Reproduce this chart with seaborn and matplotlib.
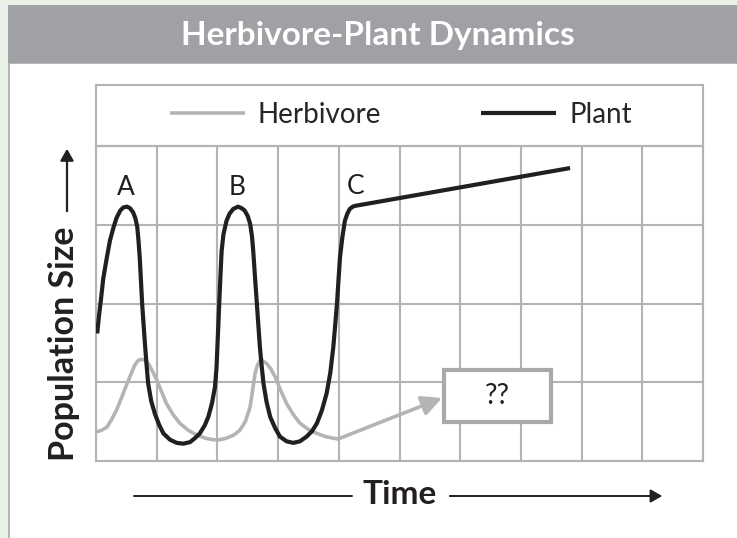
import numpy as np
import pandas as pd
import seaborn as sns
import matplotlib.pyplot as plt
from matplotlib.patches import Rectangle, FancyArrowPatch

# values, in grid units (10 time columns x 4 population rows)
plant_time = [0.02, 0.05, 0.08, 0.12, 0.18, 0.23, 0.29, 0.34, 0.40, 0.45, 0.51, 0.56,
              0.61, 0.65, 0.68, 0.70, 0.72, 0.74, 0.76, 0.785, 0.81, 0.835, 0.86, 0.91,
              0.97, 1.04, 1.11, 1.22, 1.33, 1.44, 1.55, 1.63, 1.71, 1.79, 1.85, 1.91,
              1.96, 1.985, 2.00, 2.015, 2.03, 2.05, 2.07, 2.10, 2.15, 2.20, 2.26, 2.34,
              2.40, 2.45, 2.50, 2.54, 2.57, 2.59, 2.62, 2.65, 2.675, 2.70, 2.73, 2.76,
              2.81, 2.87, 2.95, 3.03, 3.14, 3.25, 3.36, 3.47, 3.56, 3.64, 3.72, 3.80,
              3.86, 3.91, 3.94, 3.97, 3.995, 4.02, 4.06, 4.10, 4.14, 4.18, 4.23, 4.27,
              7.81]
plant_size = [1.62, 1.85, 2.04, 2.32, 2.59, 2.80, 2.97, 3.09, 3.18, 3.22, 3.23, 3.21,
              3.16, 3.08, 2.97, 2.80, 2.59, 2.30, 2.00, 1.72, 1.45, 1.20, 0.98, 0.76,
              0.60, 0.46, 0.35, 0.27, 0.23, 0.22, 0.24, 0.29, 0.35, 0.45, 0.56, 0.73,
              0.94, 1.18, 1.45, 1.72, 2.00, 2.35, 2.67, 2.88, 3.05, 3.14, 3.20, 3.23,
              3.21, 3.18, 3.11, 3.01, 2.85, 2.67, 2.33, 2.00, 1.72, 1.45, 1.20, 0.98,
              0.75, 0.56, 0.42, 0.31, 0.25, 0.23, 0.25, 0.31, 0.38, 0.48, 0.64, 0.86,
              1.12, 1.45, 1.72, 2.00, 2.30, 2.59, 2.85, 3.05, 3.14, 3.20, 3.23, 3.24,
              3.72]

herb_time = [0.01, 0.09, 0.18, 0.26, 0.34, 0.43, 0.51, 0.58, 0.64, 0.70, 0.75, 0.81,
             0.86, 0.93, 1.00, 1.08, 1.16, 1.27, 1.38, 1.52, 1.66, 1.80, 1.93, 2.04,
             2.15, 2.27, 2.37, 2.46, 2.54, 2.58, 2.62, 2.66, 2.70, 2.75, 2.81, 2.88,
             2.95, 3.04, 3.14, 3.25, 3.36, 3.50, 3.64, 3.78, 3.91, 3.99]
herb_size = [0.37, 0.39, 0.43, 0.53, 0.65, 0.82, 0.98, 1.11, 1.22, 1.28, 1.29, 1.28,
             1.24, 1.14, 1.03, 0.88, 0.73, 0.59, 0.48, 0.39, 0.33, 0.29, 0.27, 0.27,
             0.29, 0.33, 0.39, 0.50, 0.69, 0.90, 1.11, 1.22, 1.27, 1.27, 1.24, 1.17,
             1.07, 0.90, 0.73, 0.59, 0.48, 0.40, 0.35, 0.31, 0.29, 0.28]
herb_arrow_end = (5.70, 0.80)

peak_labels = ["A", "B", "C"]
peak_time = [0.49, 2.33, 4.28]
peak_size = [3.47, 3.47, 3.49]

unknown_box = (5.73, 0.49, 1.77, 0.67)  # x, y, width, height

W, H = 737, 538
PLANT_C = "#231f20"
HERB_C = "#b3b4b6"
GRID_C = "#b1b3b6"

herb = pd.DataFrame({"time": herb_time, "size": herb_size})
plant = pd.DataFrame({"time": plant_time, "size": plant_size})

sns.set_theme(style="white")
plt.rcParams["font.family"] = ["Lato", "DejaVu Sans"]


def fx(px):
    return px / W


def fy(py):
    return 1 - py / H


fig = plt.figure(figsize=(W / 100, H / 100), dpi=100)
fig.patch.set_facecolor("#eaf2e7")

# white card, grey title banner (behind the axes)
fig.patches.append(Rectangle((fx(9), -0.01), 1, fy(63) + 0.01, transform=fig.transFigure,
                             facecolor="white", edgecolor="#a8a9ac", lw=1.2, zorder=-5))
fig.patches.append(Rectangle((fx(8), fy(63)), 1, fy(5) - fy(63), transform=fig.transFigure,
                             facecolor="#a0a1a5", edgecolor="none", zorder=-4))
fig.text(fx(378), fy(35), "Herbivore-Plant Dynamics", color="white", fontsize=24,
         fontweight="bold", ha="center", va="center")

# legend strip
ax_leg = fig.add_axes([fx(96), fy(146), fx(703) - fx(96), fy(85) - fy(146)])
ax_leg.set_xticks([])
ax_leg.set_yticks([])
ax_leg.patch.set_alpha(0)
for s in ax_leg.spines.values():
    s.set_color(GRID_C)
    s.set_linewidth(1.5)

ax = fig.add_axes([fx(96), fy(461), fx(703) - fx(96), fy(146) - fy(461)])
ax.patch.set_alpha(0)
sns.lineplot(data=herb, x="time", y="size", sort=False, color=HERB_C, linewidth=2.6,
             label="Herbivore", ax=ax, zorder=3)
sns.lineplot(data=plant, x="time", y="size", sort=False, color=PLANT_C, linewidth=3.0,
             label="Plant", ax=ax, zorder=3)
for line in ax.lines:
    line.set_solid_capstyle("butt")
    line.set_solid_joinstyle("round")

ax.set_xlim(0, 10)
ax.set_ylim(0, 4)
ax.set_xticks(range(11))
ax.set_yticks(range(5))
ax.set_xticklabels([])
ax.set_yticklabels([])
ax.tick_params(length=0)
ax.grid(True, color=GRID_C, lw=1.5)
ax.set_xlabel("")
ax.set_ylabel("")
for s in ax.spines.values():
    s.set_color(GRID_C)
    s.set_linewidth(1.5)

handles, labels = ax.get_legend_handles_labels()
ax.legend(handles, labels, loc="center", bbox_to_anchor=(fx(401), fy(115)),
          bbox_transform=fig.transFigure, ncol=2, frameon=False, fontsize=20,
          handlelength=2.7, handletextpad=0.47, columnspacing=3.6)

# herbivore trend arrow into the unknown box
ax.annotate("", xy=herb_arrow_end, xytext=(herb_time[-1], herb_size[-1]),
            arrowprops=dict(arrowstyle="-|>,head_length=1.0,head_width=0.5",
                            color=HERB_C, lw=2.6, shrinkA=0, shrinkB=0), zorder=3)
bx, by, bw, bh = unknown_box
ax.add_patch(Rectangle((bx, by), bw, bh, facecolor="white", edgecolor="#a7a9ac",
                       lw=3, zorder=4))
ax.text(bx + bw / 2, by + bh / 2, "??", ha="center", va="center", fontsize=20,
        color="#231f20", zorder=5)

for lab, t, s in zip(peak_labels, peak_time, peak_size):
    ax.text(t, s, lab, ha="center", va="center", fontsize=19, color="#231f20", zorder=5)

# axis captions with arrows
fig.text(fx(64), fy(344), "Population Size", rotation=90, ha="center", va="center",
         fontsize=24.5, fontweight="bold", color="#231f20")
fig.patches.append(FancyArrowPatch(
    (fx(67), fy(214)), (fx(67), fy(146)), transform=fig.transFigure,
    arrowstyle="-|>,head_length=7,head_width=4", color="#231f20", lw=1.6))

fig.text(fx(400), fy(495), "Time", ha="center", va="center", fontsize=24,
         fontweight="bold", color="#231f20")
fig.add_artist(plt.Line2D([fx(134), fx(352)], [fy(496), fy(496)],
                          transform=fig.transFigure, color="#231f20", lw=1.4))
fig.patches.append(FancyArrowPatch(
    (fx(447), fy(496)), (fx(665), fy(496)), transform=fig.transFigure,
    arrowstyle="-|>,head_length=7,head_width=4", color="#231f20", lw=1.4))

fig.savefig("out.png", dpi=100, facecolor=fig.get_facecolor())
